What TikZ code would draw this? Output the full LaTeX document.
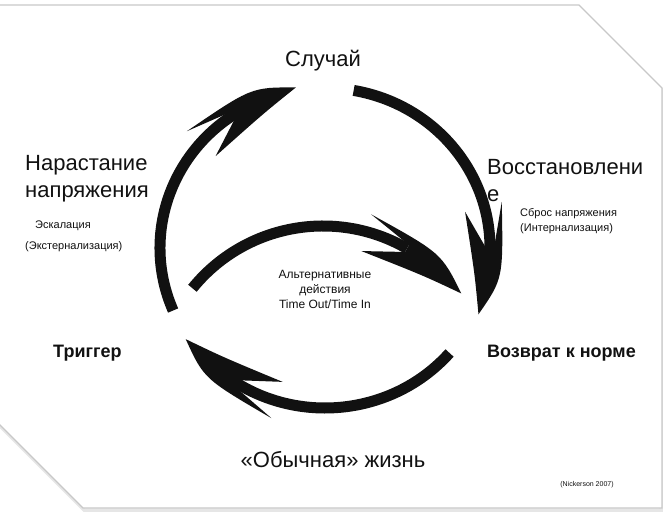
\documentclass[tikz,border=0pt]{standalone}
\usepackage{fontspec}
\setmainfont{Liberation Sans}
\usepackage{xcolor}
\definecolor{ink}{HTML}{111111}
\definecolor{frame}{HTML}{C8C8C8}
% barbed head at the end of a clockwise arc: centre, x radius, y radius, tip angle
\newcommand{\cyclehead}[4]{%
  \fill[ink] ([shift={(#4:#2+3 and #3+3)}]#1)
    .. controls ([shift={(#4+14:#2+16 and #3+16)}]#1) .. ([shift={(#4+39:#2+18 and #3+18)}]#1)
    -- ([shift={(#4+24:#2+4 and #3+4)}]#1)
    -- ([shift={(#4+24:#2-4 and #3-4)}]#1)
    -- ([shift={(#4+39:#2-20 and #3-20)}]#1)
    .. controls ([shift={(#4+14:#2-13 and #3-13)}]#1) .. cycle;}

\begin{document}
\begin{tikzpicture}[x=1pt, y=1pt,
    cycleline/.style={ink, line width=11pt, line cap=butt},
    bigtext/.style={font=\fontsize{22}{27}\selectfont, text=ink, inner sep=0pt},
    smalltext/.style={font=\fontsize{11}{15}\selectfont, text=ink, inner sep=0pt},
    boldtext/.style={font=\fontsize{18}{21}\selectfont\bfseries, text=ink, inner sep=0pt}]
  \useasboundingbox (0,0) rectangle (664,517);
  % panel with cut corners
  \draw[frame!45, line width=3.5pt] (-5,510) -- (579,510) -- (661,428) -- (661,7) -- (84,7) -- (-5,96);
  \filldraw[fill=white, draw=frame, line width=1.2pt]
    (-5,512) -- (579,512) -- (662,429) -- (662,9) -- (83,9) -- (-5,97) -- cycle;

  % labels
  \node[bigtext, anchor=north] (sluchaj) at (323,467) {Случай};
  \node[bigtext, anchor=north west, align=left] (buildup) at (25,362) {Нарастание\\напряжения};
  \node[smalltext, anchor=north west] (escal) at (35,296) {Эскалация};
  \node[smalltext, anchor=north west] (extern) at (25,276) {(Экстернализация)};
  \node[bigtext, anchor=north west, align=left] (recovery) at (487,358) {Восстановлени\\е};
  \node[smalltext, anchor=north west, align=left] (release) at (520,309) {Сброс напряжения\\(Интернализация)};
  \node[font=\fontsize{12}{15}\selectfont, text=ink, inner sep=0pt, align=center, anchor=north]
    (alt) at (325,247) {Альтернативные\\действия\\Time Out/Time In};
  \node[boldtext, anchor=base west] (trigger) at (53,159) {Триггер};
  \node[boldtext, anchor=base west] (norm) at (487,159) {Возврат к норме};
  \node[bigtext, anchor=base] (life) at (333,49) {«Обычная» жизнь};
  \node[font=\fontsize{7}{8}\selectfont, text=ink, inner sep=0pt, anchor=base] (source) at (587,31) {(Nickerson 2007)};

  % cycle arcs
  \coordinate (hub) at (325,269);
  \coordinate (innerhub) at (323,123);
  \coordinate (buildupfrom) at ([shift={(203:165 and 160)}]hub);
  \coordinate (recoveryfrom) at ([shift={(80:165 and 160)}]hub);
  \coordinate (lifefrom) at ([shift={(-41:165 and 160)}]hub);
  \coordinate (altfrom) at ([shift={(141:168)}]innerhub);
  \draw[cycleline] (buildupfrom) arc[start angle=203, end angle=122, x radius=165, y radius=160];
  \cyclehead{hub}{165}{160}{100}
  \draw[cycleline] (recoveryfrom) arc[start angle=80, end angle=-2, x radius=165, y radius=160];
  \cyclehead{hub}{165}{160}{-24}
  \draw[cycleline] (lifefrom) arc[start angle=-41, end angle=-124, x radius=165, y radius=160];
  \cyclehead{hub}{165}{160}{-146}
  \draw[cycleline] (altfrom) arc[start angle=141, end angle=60, radius=168];
  \cyclehead{innerhub}{168}{168}{36}
\end{tikzpicture}
\end{document}
